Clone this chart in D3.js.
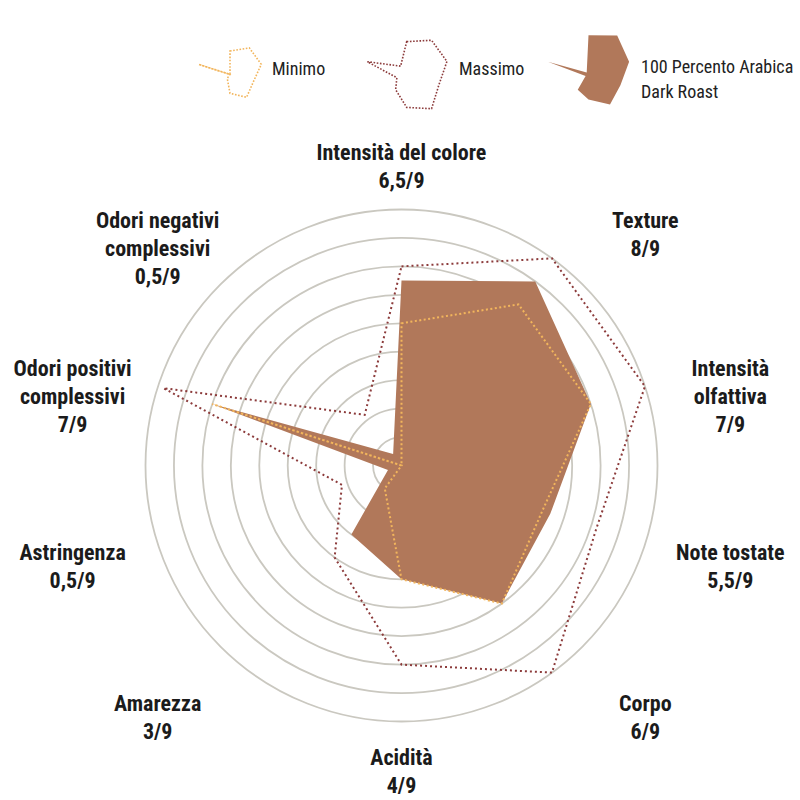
<!DOCTYPE html>
<html>
<head>
<meta charset="utf-8">
<script src="https://cdn.jsdelivr.net/npm/d3@7"></script>
<style>
  html, body { margin: 0; padding: 0; background: #fff; }
  svg { display: block; }
  .lbl { font-family: "Liberation Sans Narrow", "Roboto Condensed", "DejaVu Sans Condensed", "Arial Narrow", sans-serif; font-weight: bold; font-size: 22px; fill: #1b1b1b; }
  .leg { font-family: "Liberation Sans Narrow", "Roboto Condensed", "DejaVu Sans Condensed", "Arial Narrow", sans-serif; font-weight: normal; font-size: 18px; fill: #222; }
</style>
</head>
<body>
<svg id="chart" width="800" height="800"></svg>
<script>
// ---------- data ----------
const categories = [
  ["Intensità del colore"],
  ["Texture"],
  ["Intensità", "olfattiva"],
  ["Note tostate"],
  ["Corpo"],
  ["Acidità"],
  ["Amarezza"],
  ["Astringenza"],
  ["Odori positivi", "complessivi"],
  ["Odori negativi", "complessivi"]
];
const productValues = [6.5, 8, 7, 5.5, 6, 4, 3, 0.5, 7, 0.5];
const minimoValues  = [5, 7, 7, 5.2, 6, 4, 1, 0, 7, 0];
const massimoValues = [7, 9, 9, 7.2, 9, 7, 4, 2.2, 8.8, 2.2];
const maxValue = 9;
const ringValues = [1, 2, 3, 4, 5, 6, 7, 8, 9];
const seriesNames = ["Minimo", "Massimo", ["100 Percento Arabica", "Dark Roast"]];

// ---------- layout ----------
const W = 800, H = 800;
const cx = 401.5, cy = 465.5, R = 256;
const colors = { product: "#b1785a", minimo: "#f2b55c", massimo: "#8c3b3b", ring: "#cac8c0" };
const n = categories.length;
const ang = i => i * 2 * Math.PI / n;

const svg = d3.select("#chart");
const r = d3.scaleLinear().domain([0, maxValue]).range([0, R]);

const g = svg.append("g").attr("transform", `translate(${cx},${cy})`);

// rings
g.selectAll("circle.ring").data(ringValues).join("circle")
  .attr("class", "ring")
  .attr("r", d => r(d))
  .attr("fill", "none")
  .attr("stroke", colors.ring)
  .attr("stroke-width", 1.8);

function radial(scale) {
  return d3.lineRadial()
    .angle((d, i) => ang(i))
    .radius(d => scale(d))
    .curve(d3.curveLinearClosed);
}

const line = radial(r);

// product polygon
g.append("path").attr("d", line(productValues))
  .attr("fill", colors.product).attr("stroke", "none");

// massimo
g.append("path").attr("d", line(massimoValues))
  .attr("fill", "none").attr("stroke", colors.massimo)
  .attr("stroke-width", 2).attr("stroke-dasharray", "2,3");

// minimo
g.append("path").attr("d", line(minimoValues))
  .attr("fill", "none").attr("stroke", colors.minimo)
  .attr("stroke-width", 2).attr("stroke-dasharray", "2,2.5");

// axis labels
const fmt = v => String(v).replace(".", ",") + "/" + maxValue;
const lineH = 28;
categories.forEach((lines, i) => {
  const a = ang(i);
  const s = Math.sin(a), c = Math.cos(a);
  const x = cx + s * (334 + 123.5 * c * c);
  const shift = -9 * Math.pow(Math.max(0, c), 12) + 3.5 * Math.pow(Math.sin(2 * a), 2);
  const y0 = cy - 6 - 298 * c + 7.5 + shift;
  const all = lines.concat([fmt(productValues[i])]);
  const t = svg.append("text").attr("class", "lbl")
    .attr("text-anchor", "middle");
  all.forEach((ln, k) => {
    t.append("tspan").attr("x", x).attr("y", y0 + k * lineH).text(ln);
  });
});

// ---------- legend ----------
const legendLayout = [
  { values: minimoValues, x: 230, y: 74.5, unit: 4.7, type: "minimo", tx: 272, ty: 75 },
  { values: massimoValues, x: 406.7, y: 74.5, unit: 4.7, type: "massimo", tx: 459, ty: 75 },
  { values: productValues, x: 588.5, y: 75, unit: 6.1, type: "product", tx: 641, ty: 73.3 }
];
legendLayout.forEach((L, k) => {
  const sc = d3.scaleLinear().domain([0, maxValue]).range([0, L.unit * maxValue]);
  const lg = svg.append("g").attr("transform", `translate(${L.x},${L.y})`);
  const p = lg.append("path").attr("d", radial(sc)(L.values));
  if (L.type === "product") {
    p.attr("fill", colors.product);
  } else {
    p.attr("fill", "none").attr("stroke", colors[L.type])
      .attr("stroke-width", 1.6).attr("stroke-dasharray", "1.6,1.6");
  }
  const name = seriesNames[k];
  const names = Array.isArray(name) ? name : [name];
  const t = svg.append("text").attr("class", "leg");
  names.forEach((nm, j) => {
    t.append("tspan").attr("x", L.tx).attr("y", L.ty + j * 25).text(nm);
  });
});
</script>
</body>
</html>
